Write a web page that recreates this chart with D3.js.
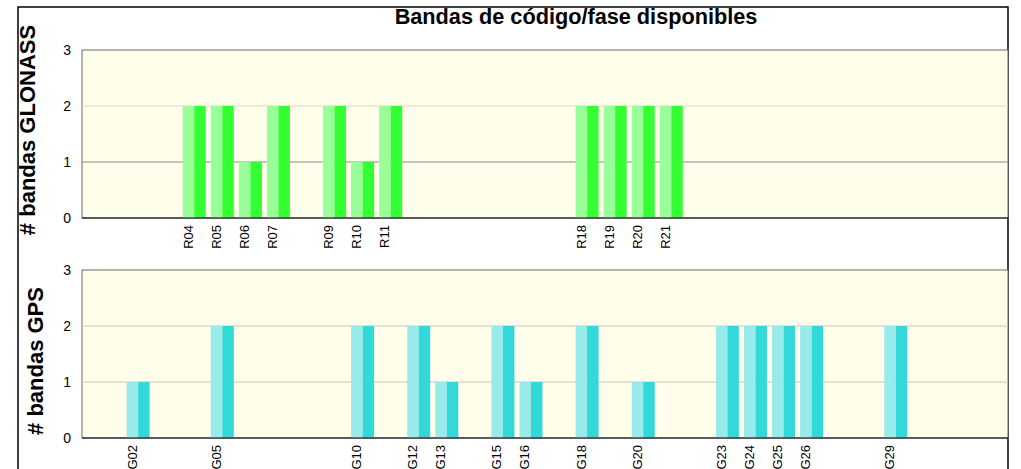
<!DOCTYPE html>
<html>
<head>
<meta charset="utf-8">
<script src="https://cdn.jsdelivr.net/npm/d3@7"></script>
<style>
  body { margin: 0; background: #fff; }
  svg { display: block; font-family: "Liberation Sans", Arial, sans-serif; }
</style>
</head>
<body>
<div id="chart"></div>
<script>
// satellites with available code/phase bands
const glonassSats = ["R04", "R05", "R06", "R07", "R09", "R10", "R11", "R18", "R19", "R20", "R21"];
const glonassBands = [2, 2, 1, 2, 2, 1, 2, 2, 2, 2, 2];
const gpsSats = ["G02", "G05", "G10", "G12", "G13", "G15", "G16", "G18", "G20", "G23", "G24", "G25", "G26", "G29"];
const gpsBands = [1, 2, 2, 2, 1, 2, 1, 2, 1, 2, 2, 2, 2, 2];
const yTicks = [0, 1, 2, 3];
const satRange = [0, 33];

const width = 1021;
const height = 469;

const svg = d3.select('#chart')
    .append('svg')
    .attr('width', width)
    .attr('height', height);

const x = d3.scaleLinear()
    .domain(satRange)
    .range([82, 1008]);
const step = x(1) - x(0);

function drawPanel(sats, bands, top, bottom, title, colors, gridColors, titleX, titleY) {
    const y = d3.scaleLinear()
        .domain([0, 3])
        .range([bottom, top]);

    const g = svg.append('g');

    // plot background
    g.append('rect')
        .attr('x', x(satRange[0]))
        .attr('y', y(3))
        .attr('width', x(satRange[1]) - x(satRange[0]))
        .attr('height', y(0) - y(3))
        .attr('fill', '#fffeea')
        .attr('stroke', '#6a6a6a')
        .attr('stroke-width', 1);

    // grid lines
    [1, 2].forEach((v, i) => {
        g.append('line')
            .attr('x1', x(satRange[0]))
            .attr('x2', x(satRange[1]))
            .attr('y1', y(v))
            .attr('y2', y(v))
            .attr('stroke', gridColors[i])
            .attr('stroke-width', 1);
    });

    const data = sats.map((s, i) => ({ name: s, num: +s.slice(1), value: bands[i] }));

    // light left half
    g.selectAll('rect.light')
        .data(data)
        .enter()
        .append('rect')
        .attr('class', 'light')
        .attr('x', d => x(d.num) - step * 0.41)
        .attr('y', d => y(d.value))
        .attr('width', step * 0.41)
        .attr('height', d => y(0) - y(d.value))
        .attr('fill', colors[0]);

    // dark right half
    g.selectAll('rect.dark')
        .data(data)
        .enter()
        .append('rect')
        .attr('class', 'dark')
        .attr('x', d => x(d.num))
        .attr('y', d => y(d.value))
        .attr('width', step * 0.41)
        .attr('height', d => y(0) - y(d.value))
        .attr('fill', colors[1]);

    // y axis labels
    g.append('g')
        .attr('transform', `translate(${x(satRange[0])},0)`)
        .call(d3.axisLeft(y).tickValues(yTicks).tickFormat(d3.format('d')).tickSize(0).tickPadding(11))
        .call(a => a.select('.domain').remove())
        .selectAll('text')
        .attr('font-size', 14)
        .attr('font-family', '"Liberation Sans", Arial, sans-serif')
        .attr('fill', '#000');

    // x axis baseline
    g.append('line')
        .attr('x1', x(satRange[0]))
        .attr('x2', x(satRange[1]))
        .attr('y1', y(0))
        .attr('y2', y(0))
        .attr('stroke', '#000')
        .attr('stroke-width', 1.2);

    // satellite labels
    const xAxis = g.append('g')
        .attr('transform', `translate(0,${y(0)})`)
        .call(d3.axisBottom(x)
            .tickValues(data.map(d => d.num))
            .tickFormat((n, i) => data[i].name)
            .tickSize(0))
        .call(a => a.select('.domain').remove());

    xAxis.selectAll('text')
        .attr('font-size', 13)
        .attr('font-family', '"Liberation Sans", Arial, sans-serif')
        .attr('fill', '#000')
        .attr('text-anchor', 'end')
        .attr('dy', null)
        .attr('y', null)
        .attr('transform', 'translate(-2,7) rotate(-90)');

    // y title
    svg.append('text')
        .attr('transform', `translate(${titleX},${titleY}) rotate(-90)`)
        .attr('text-anchor', 'middle')
        .attr('font-size', 22)
        .attr('font-weight', 'bold')
        .text(title);
}

// outer frame
svg.append('rect')
    .attr('x', 18)
    .attr('y', 7)
    .attr('width', 990)
    .attr('height', 480)
    .attr('fill', 'none')
    .attr('stroke', '#000')
    .attr('stroke-width', 1.5);

drawPanel(glonassSats, glonassBands, 50, 218, '# bandas GLONASS',
    ['#99ff99', '#33ff33'], ['#8a8a8a', '#dcd8c6'], 35, 130);
drawPanel(gpsSats, gpsBands, 270, 438, '# bandas GPS',
    ['#99ebeb', '#33d9d9'], ['#cbc8b6', '#cbc8b6'], 43, 361);

svg.append('text')
    .attr('x', 576)
    .attr('y', 24)
    .attr('text-anchor', 'middle')
    .attr('font-size', 21.7)
    .attr('font-weight', 'bold')
    .text('Bandas de código/fase disponibles');
</script>
</body>
</html>
